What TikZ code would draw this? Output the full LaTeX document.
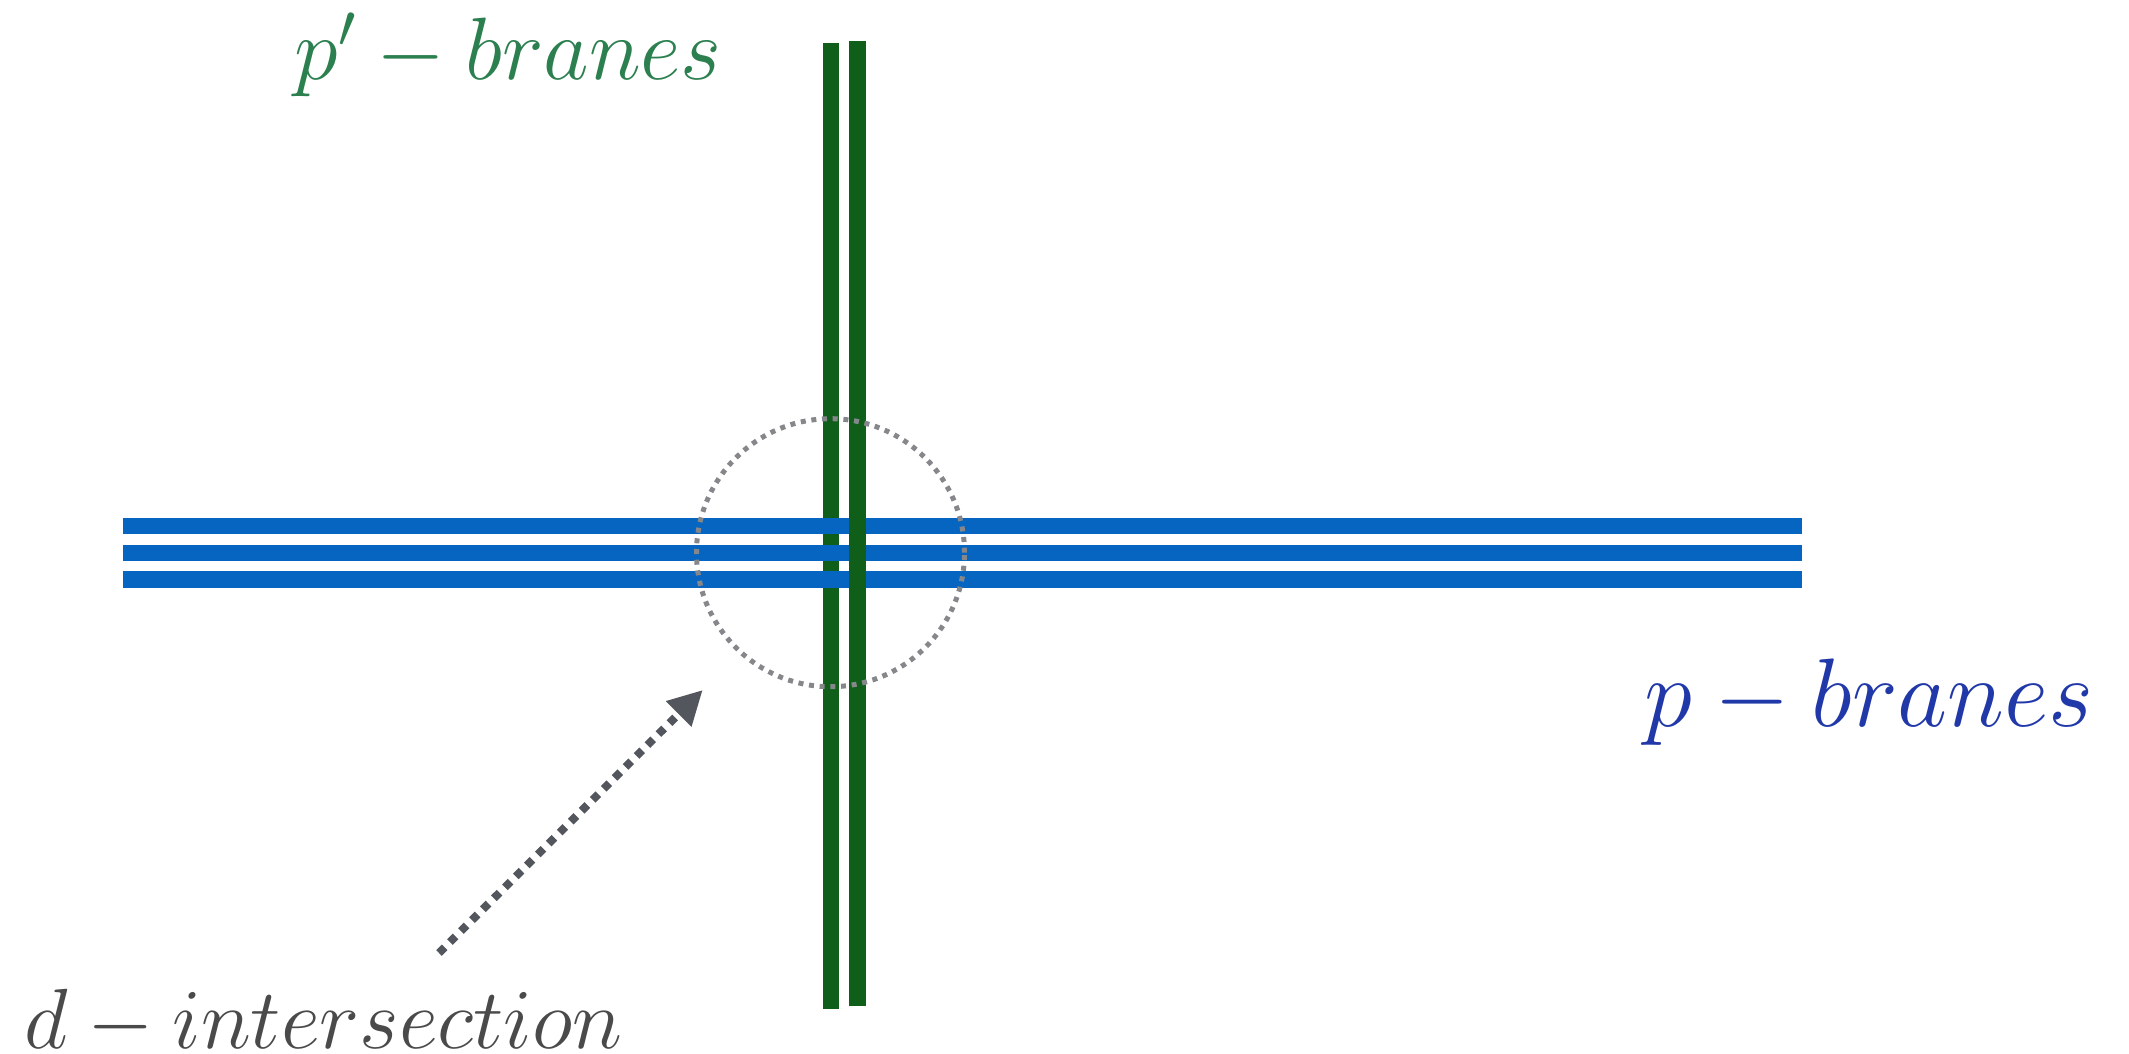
\RequirePackage{fix-cm}
\documentclass[tikz,border=0pt]{standalone}
\usetikzlibrary{arrows.meta}
\definecolor{brgreen}{RGB}{15,94,26}
\definecolor{brblue}{RGB}{5,101,192}
\definecolor{txtgreen}{RGB}{44,128,80}
\definecolor{txtblue}{RGB}{33,56,168}
\definecolor{txtgray}{RGB}{74,74,74}
\definecolor{circgray}{RGB}{134,135,139}
\definecolor{arrgray}{RGB}{83,87,93}
\tikzset{
  gbrane/.style={draw=brgreen, line width=0.163cm},
  bbrane/.style={draw=brblue, line width=0.163cm},
  lbl/.style={anchor=base west, inner sep=0pt},
  ring/.style={draw=circgray, line width=0.05cm, dash pattern=on 0.05cm off 0.057cm, circle, inner sep=0pt, minimum size=2.68cm},
  pointer/.style={draw=arrgray, line width=0.08cm, dash pattern=on 0.08cm off 0.075cm, -{Triangle[length=0.34cm,width=0.34cm]}}
}
\begin{document}
\begin{tikzpicture}
\useasboundingbox (0,0) rectangle (21.29,-10.54);
\coordinate (g1t) at (8.31,-0.433);
\coordinate (g1b) at (8.31,-10.09);
\coordinate (g2t) at (8.575,-0.41);
\coordinate (g2b) at (8.575,-10.06);
\coordinate (b1l) at (1.233,-5.262); \coordinate (b1r) at (18.023,-5.262);
\coordinate (b2l) at (1.233,-5.528); \coordinate (b2r) at (18.023,-5.528);
\coordinate (b3l) at (1.233,-5.795); \coordinate (b3r) at (18.023,-5.795);
\draw[gbrane] (g1t) -- (g1b);
\draw[bbrane] (b1l) -- (b1r);
\draw[bbrane] (b2l) -- (b2r);
\draw[bbrane] (b3l) -- (b3r);
\draw[gbrane] (g2t) -- (g2b);
\node[ring] (ring) at (8.305,-5.527) {};
\coordinate (tail) at (4.39,-9.53);
\coordinate (tip) at (7.027,-6.90);
\draw[pointer] (tail) -- (tip);
\node[lbl, text=txtgreen, font=\fontsize{25.2}{30}\selectfont] (pp) at (2.94,-0.80) {$p'-branes$};
\node[lbl, text=txtblue, font=\fontsize{27.7}{33}\selectfont] (pb) at (16.44,-7.27) {$p-branes$};
\node[lbl, text=txtgray, font=\fontsize{24.3}{29}\selectfont] (di) at (0.24,-10.48) {$d-intersection$};
\end{tikzpicture}
\end{document}
